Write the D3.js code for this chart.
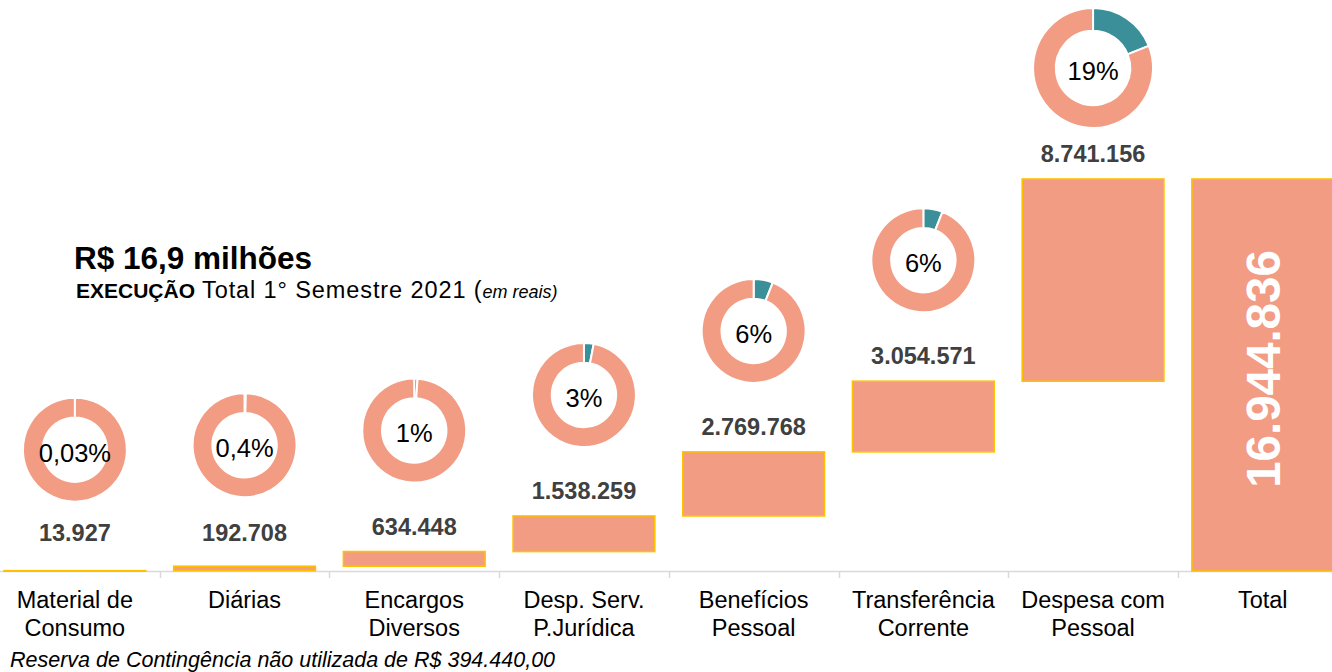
<!DOCTYPE html>
<html lang="pt-BR">
<head>
<meta charset="utf-8">
<script src="https://cdn.jsdelivr.net/npm/d3@7"></script>
<style>
  html, body { margin: 0; padding: 0; background: #ffffff; }
  svg { display: block; font-family: "Liberation Sans", Arial, Helvetica, sans-serif; }
</style>
</head>
<body>
<svg id="chart" width="1332" height="672"></svg>
<script>
// Execution by expense group, 1st semester 2021 (in reais)
const categories = [
  "Material de\nConsumo",
  "Diárias",
  "Encargos\nDiversos",
  "Desp. Serv.\nP.Jurídica",
  "Benefícios\nPessoal",
  "Transferência\nCorrente",
  "Despesa com\nPessoal",
  "Total"
];
const values = [13927, 192708, 634448, 1538259, 2769768, 3054571, 8741156];
const totalValue = 16944836;
// share of each group shown in the rings (percent)
const shares = [0.03, 0.4, 1, 3, 6, 6, 19];
const shareLabels = ["0,03%", "0,4%", "1%", "3%", "6%", "6%", "19%"];

const titleText = "R$ 16,9 milhões";
const footnote = "Reserva de Contingência não utilizada de R$ 394.440,00";

const W = 1332, H = 672;
const baseY = 571;
const FILL = "#F29C84", EDGE = "#FFC000", TEAL = "#3A8F98";

const br = d3.formatLocale({ decimal: ",", thousands: ".", grouping: [3], currency: ["R$ ", ""] });
const fmt = br.format(",d");

const svg = d3.select("#chart");

// waterfall segments
let run = 0;
const steps = values.map((v, i) => {
  const s = { key: categories[i], start: run, end: run + v, value: v, share: shares[i], shareLabel: shareLabels[i] };
  run += v;
  return s;
});

const x = d3.scaleBand()
  .domain(categories)
  .range([-10, -10 + 8 * 169.7])
  .paddingInner(0.165)
  .paddingOuter(0.0825);

const y = d3.scaleLinear().domain([0, totalValue]).range([baseY, 179]);

// category axis
const gAxis = svg.append("g");
gAxis.append("line")
  .attr("x1", 0).attr("x2", W)
  .attr("y1", baseY + 0.5).attr("y2", baseY + 0.5)
  .attr("stroke", "#d9d9d9").attr("stroke-width", 1.5);
const boundaries = categories.slice(1).map(c => x(c) - x.step() * x.paddingInner() / 2);
gAxis.selectAll("line.tick").data(boundaries).join("line")
  .attr("class", "tick")
  .attr("x1", d => Math.round(d) + 0.5).attr("x2", d => Math.round(d) + 0.5)
  .attr("y1", baseY).attr("y2", baseY + 7)
  .attr("stroke", "#d9d9d9").attr("stroke-width", 1.5);

const labels = gAxis.selectAll("text.cat").data(categories).join("text")
  .attr("class", "cat")
  .attr("text-anchor", "middle")
  .attr("font-size", 23.5)
  .attr("fill", "#000");
labels.each(function (d) {
  const t = d3.select(this);
  d.split("\n").forEach((line, k) => {
    t.append("tspan")
      .attr("x", x(d) + x.bandwidth() / 2)
      .attr("y", 608 + k * 28)
      .text(line);
  });
});

// floating bars
svg.append("g").selectAll("rect").data(steps).join("rect")
  .attr("x", d => x(d.key))
  .attr("width", x.bandwidth())
  .attr("y", d => y(d.end))
  .attr("height", d => Math.max(0.5, y(d.start) - y(d.end)))
  .attr("fill", FILL)
  .attr("stroke", EDGE)
  .attr("stroke-width", 1.6);

// total bar
const totKey = categories[categories.length - 1];
svg.append("rect")
  .attr("x", x(totKey))
  .attr("width", x.bandwidth())
  .attr("y", y(totalValue))
  .attr("height", y(0) - y(totalValue))
  .attr("fill", FILL)
  .attr("stroke", EDGE)
  .attr("stroke-width", 1.6);

const totCx = x(totKey) + x.bandwidth() / 2;
const totCy = (y(0) + y(totalValue)) / 2 - 6;
svg.append("text")
  .attr("transform", `translate(${totCx},${totCy}) rotate(-90)`)
  .attr("text-anchor", "middle")
  .attr("dy", "0.36em")
  .attr("font-size", 47.5)
  .attr("font-weight", "bold")
  .attr("fill", "#ffffff")
  .text(fmt(totalValue));

// value labels above each step (small steps sit a little higher)
svg.append("g").selectAll("text").data(steps).join("text")
  .attr("x", d => x(d.key) + x.bandwidth() / 2)
  .attr("y", d => Math.min(y(d.end) - 17, baseY - 30))
  .attr("text-anchor", "middle")
  .attr("font-size", 23.5)
  .attr("font-weight", "bold")
  .attr("fill", "#404040")
  .text(d => fmt(d.value));

// share rings
const pie = d3.pie().sort(null).value(d => d);
const ringR = d => (d.share >= 15 ? 60 : 52);
const rings = svg.append("g").selectAll("g").data(steps).join("g")
  .attr("transform", d => {
    const r = ringR(d);
    const cx = x(d.key) + x.bandwidth() / 2;
    const cy = Math.max(y(d.end) - 121, r + 8);
    return `translate(${cx},${cy})`;
  });
rings.each(function (d) {
  const r = ringR(d);
  const arc = d3.arc().innerRadius(r * 0.62).outerRadius(r);
  const g = d3.select(this);
  g.selectAll("path").data(pie([d.share, 100 - d.share])).join("path")
    .attr("d", arc)
    .attr("fill", (p, i) => (i === 0 ? TEAL : FILL))
    .attr("stroke", "#ffffff")
    .attr("stroke-width", 2)
    .attr("stroke-linejoin", "miter");
  g.append("text")
    .attr("text-anchor", "middle")
    .attr("y", 3)
    .attr("dy", "0.35em")
    .attr("font-size", 25.5)
    .attr("fill", "#000")
    .text(d.shareLabel);
});

// heading
svg.append("text")
  .attr("x", 74).attr("y", 269)
  .attr("font-size", 31.5)
  .attr("font-weight", "bold")
  .attr("fill", "#000")
  .text(titleText);

const sub = svg.append("text")
  .attr("x", 76).attr("y", 298)
  .attr("font-size", 21)
  .attr("fill", "#000");
sub.append("tspan").attr("font-weight", "bold").text("EXECUÇÃO");
sub.append("tspan").attr("font-size", 23.5).attr("letter-spacing", 0.9).text(" Total 1° Semestre 2021 (");
sub.append("tspan").attr("font-style", "italic").attr("font-size", 18).text("em reais)");

// footnote
svg.append("text")
  .attr("x", 10).attr("y", 667)
  .attr("font-size", 21.5)
  .attr("font-style", "italic")
  .attr("fill", "#000")
  .text(footnote);
</script>
</body>
</html>
